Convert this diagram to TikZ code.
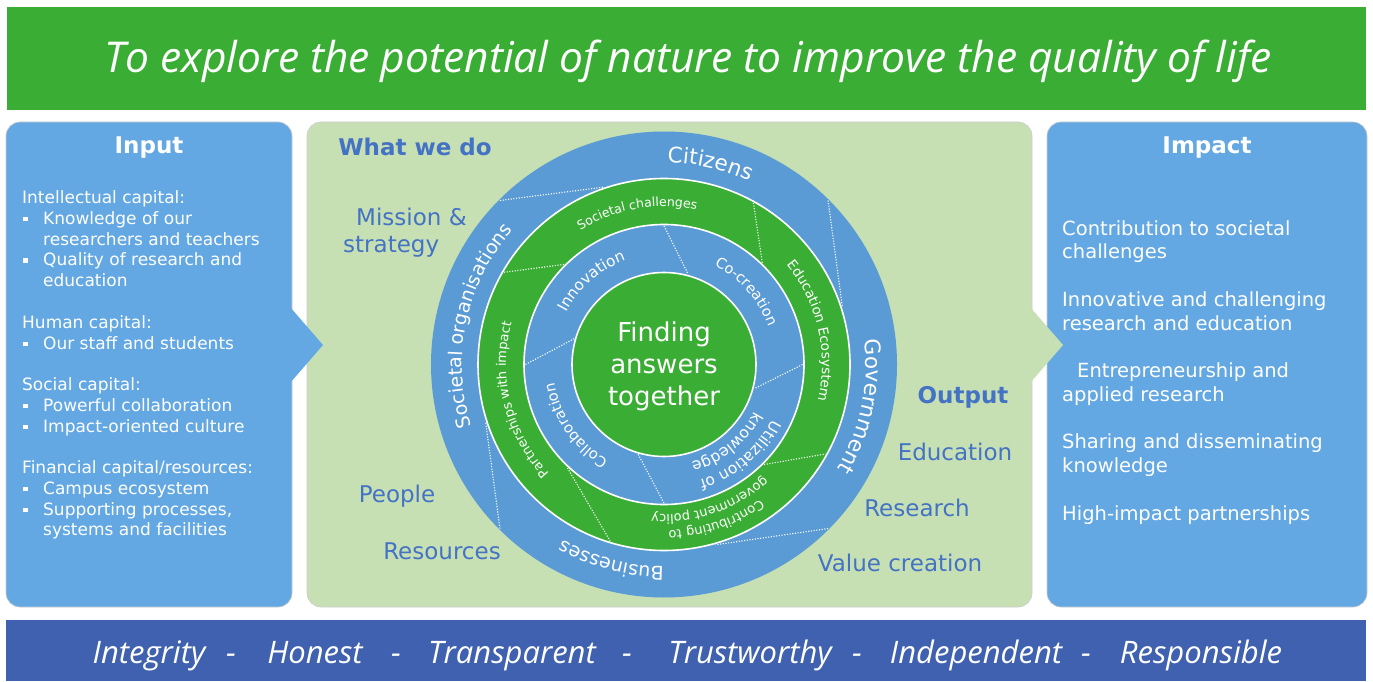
\documentclass[tikz,border=0pt]{standalone}
\usepackage{fontspec}
\setmainfont{DejaVu Sans}
\newfontfamily\slogan{Open Sans}
\usetikzlibrary{decorations.text}
\definecolor{leafgreen}{RGB}{58,174,52}
\definecolor{ringblue}{RGB}{91,155,213}
\definecolor{boxblue}{RGB}{99,168,227}
\definecolor{palegreen}{RGB}{198,224,180}
\definecolor{navy}{RGB}{63,97,175}
\definecolor{inkblue}{RGB}{68,114,196}
\newcommand\fs[1]{\fontsize{#1}{#1}\selectfont}
\newcommand\bul{\makebox[21pt][l]{\hspace{1pt}\rule[3pt]{4.5pt}{4.5pt}}}
\newcommand\ind{\hspace*{21pt}}
% radius, centre angle, size, text
\newcommand\ringtext[4]{\path[decorate,decoration={text along path,text align=center,text color=white,
    text={|\fontsize{#3}{#3}\selectfont|#4}}] ({#2+70}:#1) arc[start angle={#2+70},end angle={#2-70},radius=#1];}
\begin{document}
\begin{tikzpicture}[x=1pt,y=1pt,every node/.style={inner sep=0pt},
	banner/.style={white,font=\slogan\itshape\fs{42.5},anchor=base},
	motto/.style={white,font=\slogan\itshape\fs{31},anchor=base},
	panel/.style={rounded corners=14pt,draw=black!20,line width=0.6pt},
	heading/.style={white,font=\bfseries\fs{23},anchor=base},
	midtext/.style={inkblue,font=\fs{23}},
	divider/.style={white,line width=1.1pt,dash pattern=on 1.1pt off 1.6pt},
	rim/.style={draw=white,line width=1.6pt}]
\useasboundingbox (0,0) rectangle (1373,681);
\fill[white] (0,0) rectangle (1373,681);
% banners
\fill[leafgreen] (7,571) rectangle (1366,674);
\fill[navy] (6,0) rectangle (1366,61);
\node[banner] (purpose) at (688,608) {To explore the potential of nature to improve the quality of life};
\foreach \w/\x [count=\i] in {Integrity/149,Honest/315,Transparent/512,Trustworthy/750,Independent/976,Responsible/1201}
	\node[motto] (value\i) at (\x,18) {\w};
\foreach \x [count=\i] in {231,396,627,857,1086}
	\node[motto] (dash\i) at (\x,18) {-};
% panels
\filldraw[panel,fill=boxblue] (6,74) rectangle (292,559);
\filldraw[panel,fill=palegreen] (307,74) rectangle (1032,559);
\filldraw[panel,fill=boxblue] (1047,74) rectangle (1367,559);
\fill[boxblue] (290,374) -- (323,336) -- (290,298) -- cycle;
\fill[palegreen] (1030,374) -- (1063,336) -- (1030,298) -- cycle;
% input
\node[heading] (input) at (149,527.7) {Input};
\node[white,align=left,anchor=north west,font=\fontsize{17}{20.77}\selectfont] (capitals) at (22,490.5)
	{Intellectual capital:\\ \bul Knowledge of our\\ \ind researchers and teachers\\ \bul Quality of research and\\ \ind education\\[20.77pt]
	Human capital:\\ \bul Our staff and students\\[20.77pt]
	Social capital:\\ \bul Powerful collaboration\\ \bul Impact-oriented culture\\[20.77pt]
	Financial capital/resources:\\ \bul Campus ecosystem\\ \bul Supporting processes,\\ \ind systems and facilities};
% impact
\node[heading] (impact) at (1207,527.7) {Impact};
\node[white,align=left,anchor=north west,font=\fontsize{19.5}{23.75}\selectfont] (effects) at (1062,461)
	{Contribution to societal\\ challenges\\[23.75pt]
	Innovative and challenging\\ research and education\\[23.75pt]
	\hspace*{15pt}Entrepreneurship and\\ applied research\\[23.75pt]
	Sharing and disseminating\\ knowledge\\[23.75pt]
	High-impact partnerships};
% what we do
\node[midtext,font=\bfseries\fs{23}] (whatwedo) at (415,534) {What we do};
\node[midtext,align=left,anchor=north west,font=\fontsize{23}{27}\selectfont] (aims) at (343,473.5) {\hspace*{13pt}Mission \&\\strategy};
\node[midtext] (people) at (397,185) {People};
\node[midtext] (resources) at (442,130) {Resources};
\node[midtext,font=\bfseries\fs{23}] (output) at (963,284) {Output};
\node[midtext] (education) at (955,229) {Education};
\node[midtext] (research) at (917,173) {Research};
\node[midtext] (valuecreation) at (900,118) {Value creation};
% rings
\begin{scope}[shift={(664,316.5)}]
\fill[ringblue] (0,0) circle[radius=233];
\filldraw[rim,fill=leafgreen] (0,0) circle[radius=186];
\filldraw[rim,fill=ringblue] (0,0) circle[radius=140];
\filldraw[rim,fill=leafgreen] (0,0) circle[radius=92];
\foreach \a/\b in {45/18,135/109,225/198,315/286}
	\draw[divider] (\a:232) -- (\b:187.5);
\foreach \a/\b in {135/150,46/61,-45/-29,227/253}
	\draw[divider] (\a:141.5) -- (\b:184.5);
\foreach \a/\b in {90/75,180/164,0/-15,270/254}
	\draw[divider] (\a:138.5) -- (\b:93.5);
\node[white,align=center,font=\fontsize{26}{31.7}\selectfont] (core) at (0,-2) {Finding\\answers\\together};
\ringtext{202}{77}{21.5}{Citizens}
\ringtext{202}{-12}{21.5}{Government}
\ringtext{202}{255}{19}{Businesses}
\ringtext{202}{168}{19}{Societal organisations}
\ringtext{158}{100}{12.5}{Societal challenges}
\ringtext{158}{13}{13.5}{Education Ecosystem}
\ringtext{158}{194}{13}{Partnerships with impact}
\ringtext{166}{-71.5}{13}{Contributing to}
\ringtext{150}{-71.5}{13}{government policy}
\ringtext{111}{131}{15.3}{Innovation}
\ringtext{111}{41.5}{14.5}{Co-creation}
\ringtext{111}{214.5}{14.7}{Collaboration}
\ringtext{121}{-50}{15.5}{Utilization of}
\ringtext{102}{-51}{15.5}{knowledge}
\end{scope}
\end{tikzpicture}
\end{document}
